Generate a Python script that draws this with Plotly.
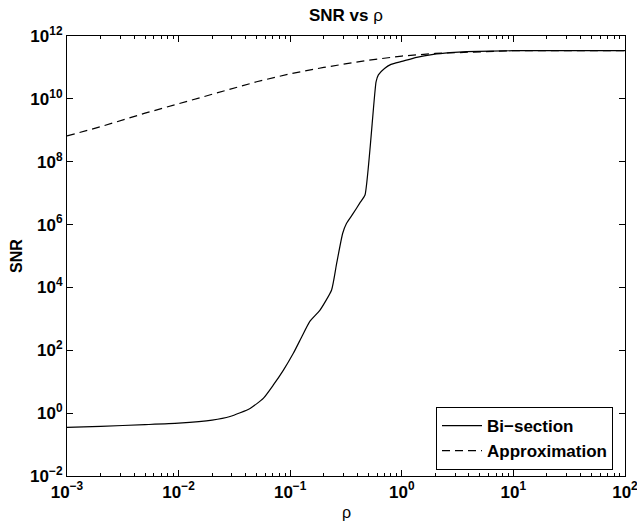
import plotly.graph_objects as go

# Bi-section curve (rho, SNR)
rho_bisection = [0.001, 0.002, 0.005, 0.01, 0.02, 0.0289, 0.0437, 0.0574, 0.0707, 0.0867,
                 0.1067, 0.127, 0.150, 0.185, 0.235, 0.261, 0.295, 0.32, 0.368, 0.42, 0.468,
                 0.588, 0.617, 0.70, 0.80, 1.0, 1.36, 1.92, 2.7, 3.8, 10, 100]
snr_bisection = [0.35, 0.38, 0.43, 0.48, 0.6, 0.78, 1.41, 2.95, 7.9, 23,
                 80, 270, 830, 1900, 8300, 5.9e4, 5.2e5, 1.1e6, 2.3e6, 4.8e6, 8.7e6,
                 3.5e10, 5.8e10, 9.3e10, 1.25e11, 1.55e11, 2.1e11, 2.6e11, 2.95e11, 3.2e11,
                 3.4e11, 3.4e11]

# Approximation curve (rho, SNR)
rho_approx = [0.001, 0.002, 0.005, 0.01, 0.02, 0.05, 0.1, 0.2, 0.5, 1, 2, 5, 10, 100]
snr_approx = [6.6e8, 1.3e9, 3.5e9, 6.9e9, 1.4e10, 3.5e10, 6.3e10, 1.0e11, 1.7e11,
              2.3e11, 2.8e11, 3.2e11, 3.4e11, 3.4e11]

x_tickvals = [1e-3, 1e-2, 1e-1, 1e0, 1e1, 1e2]
x_ticktext = ["10<sup>\u22123</sup>", "10<sup>\u22122</sup>", "10<sup>\u22121</sup>",
              "10<sup>0</sup>", "10<sup>1</sup>", "10<sup>2</sup>"]
y_tickvals = [1e-2, 1e0, 1e2, 1e4, 1e6, 1e8, 1e10, 1e12]
y_ticktext = ["10<sup>\u22122</sup>", "10<sup>0</sup>", "10<sup>2</sup>", "10<sup>4</sup>",
              "10<sup>6</sup>", "10<sup>8</sup>", "10<sup>10</sup>", "10<sup>12</sup>"]

x_minor = [m * 10 ** e for e in range(-3, 2) for m in range(2, 10)]

FONT = "Liberation Sans, Arial, Helvetica, sans-serif"

fig = go.Figure()
fig.add_trace(go.Scatter(x=rho_bisection, y=snr_bisection, mode="lines",
                         name="Bi\u2212section",
                         line=dict(color="black", width=1.2, shape="spline", smoothing=0.5)))
fig.add_trace(go.Scatter(x=rho_approx, y=snr_approx, mode="lines",
                         name="Approximation",
                         line=dict(color="black", width=1.2, dash="8px,5px")))

axis_common = dict(
    showgrid=False, zeroline=False, showline=True, linecolor="black", linewidth=1.2,
    mirror="ticks", ticks="inside", ticklen=6, tickcolor="black", tickwidth=1,
    automargin=False, ticklabeloverflow="allow",
    tickfont=dict(family=FONT, size=17, color="black", weight="bold"),
)

fig.update_xaxes(type="log", range=[-3, 2.0002], tickmode="array", tickvals=x_tickvals,
                 ticktext=x_ticktext,
                 minor=dict(tickmode="array", tickvals=x_minor, ticks="inside",
                            ticklen=3, tickcolor="black", tickwidth=1),
                 **axis_common)
fig.update_yaxes(type="log", range=[-2, 12], tickmode="array", tickvals=y_tickvals,
                 ticktext=y_ticktext, **axis_common)

fig.update_layout(
    width=637, height=522,
    margin=dict(l=67, r=12, t=36, b=46),
    paper_bgcolor="white", plot_bgcolor="white",
    showlegend=True,
    legend=dict(x=0.9785, y=0.0136, xanchor="right", yanchor="bottom",
                bgcolor="white", bordercolor="black", borderwidth=1,
                font=dict(family=FONT, size=17, color="black", weight="bold"),
                tracegroupgap=0, itemwidth=40),
    annotations=[
        dict(text="<b>SNR vs </b>\u03c1", xref="paper", yref="paper", x=0.5, y=1,
             yshift=21, xanchor="center", yanchor="middle", showarrow=False,
             font=dict(family=FONT, size=17, color="black")),
        dict(text="\u03c1", xref="paper", yref="paper", x=0.5, y=0, yshift=-36,
             xanchor="center", yanchor="middle", showarrow=False,
             font=dict(family=FONT, size=16, color="black")),
        dict(text="<b>SNR</b>", xref="paper", yref="paper", x=0, y=0.5, xshift=-51,
             xanchor="center", yanchor="middle", showarrow=False, textangle=-90,
             font=dict(family=FONT, size=16, color="black")),
    ],
)

fig.write_html("out.html", config={"displayModeBar": False},
               post_script="document.body.style.margin='0px';"
                           "document.body.style.overflow='hidden';")
